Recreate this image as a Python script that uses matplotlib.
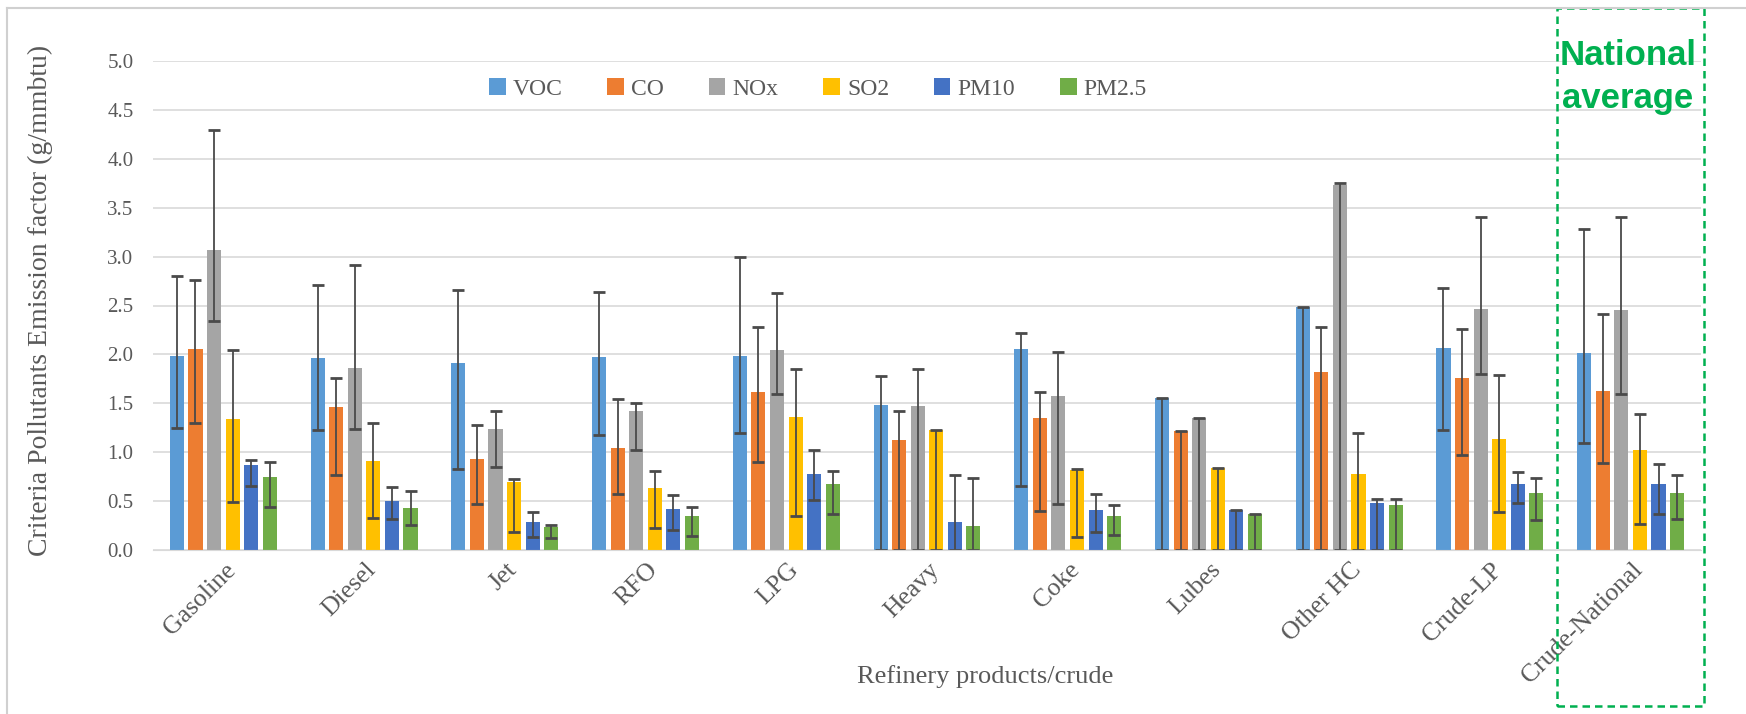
import numpy as np
import matplotlib
matplotlib.use("Agg")
import matplotlib.pyplot as plt
from matplotlib.patches import Rectangle
from matplotlib.lines import Line2D
import matplotlib.transforms as mtransforms

# emission factors (g/mmbtu) per refinery product, with low/high bounds
categories = ['Gasoline', 'Diesel', 'Jet', 'RFO', 'LPG', 'Heavy', 'Coke',
              'Lubes', 'Other HC', 'Crude-LP', 'Crude-National']
pollutants = ['VOC', 'CO', 'NOx', 'SO2', 'PM10', 'PM2.5']

voc = [1.98, 1.96, 1.91, 1.97, 1.98, 1.48, 2.06, 1.55, 2.48, 2.07, 2.01]
voc_lo = [1.25, 1.23, 0.83, 1.18, 1.20, 0.0, 0.65, 0.0, 0.0, 1.23, 1.09]
voc_hi = [2.80, 2.71, 2.66, 2.64, 3.00, 1.78, 2.22, 1.55, 2.48, 2.68, 3.28]

co = [2.06, 1.46, 0.93, 1.04, 1.62, 1.12, 1.35, 1.22, 1.82, 1.76, 1.63]
co_lo = [1.30, 0.77, 0.47, 0.57, 0.90, 0.0, 0.40, 0.0, 0.0, 0.97, 0.89]
co_hi = [2.76, 1.76, 1.28, 1.54, 2.28, 1.42, 1.62, 1.22, 2.28, 2.26, 2.41]

nox = [3.07, 1.86, 1.24, 1.42, 2.04, 1.47, 1.57, 1.35, 3.73, 2.46, 2.45]
nox_lo = [2.34, 1.24, 0.85, 1.02, 1.60, 0.0, 0.47, 0.0, 0.0, 1.80, 1.60]
nox_hi = [4.29, 2.91, 1.42, 1.50, 2.63, 1.85, 2.02, 1.35, 3.75, 3.40, 3.40]

so2 = [1.34, 0.91, 0.70, 0.63, 1.36, 1.23, 0.82, 0.84, 0.78, 1.14, 1.02]
so2_lo = [0.49, 0.33, 0.18, 0.23, 0.35, 0.0, 0.13, 0.0, 0.0, 0.39, 0.27]
so2_hi = [2.05, 1.30, 0.73, 0.81, 1.85, 1.23, 0.83, 0.84, 1.20, 1.79, 1.39]

pm10 = [0.87, 0.50, 0.29, 0.42, 0.78, 0.29, 0.41, 0.41, 0.48, 0.67, 0.67]
pm10_lo = [0.65, 0.32, 0.13, 0.20, 0.51, 0.0, 0.18, 0.0, 0.0, 0.48, 0.37]
pm10_hi = [0.92, 0.64, 0.39, 0.56, 1.02, 0.77, 0.57, 0.41, 0.52, 0.80, 0.88]

pm25 = [0.75, 0.43, 0.24, 0.35, 0.67, 0.25, 0.35, 0.37, 0.46, 0.58, 0.58]
pm25_lo = [0.44, 0.26, 0.12, 0.14, 0.37, 0.0, 0.15, 0.0, 0.0, 0.31, 0.32]
pm25_hi = [0.90, 0.60, 0.26, 0.44, 0.81, 0.74, 0.46, 0.37, 0.52, 0.74, 0.77]

colors = ['#5B9BD5', '#ED7D31', '#A5A5A5', '#FFC000', '#4472C4', '#70AD47']

series = [(voc, voc_lo, voc_hi), (co, co_lo, co_hi), (nox, nox_lo, nox_hi),
          (so2, so2_lo, so2_hi), (pm10, pm10_lo, pm10_hi), (pm25, pm25_lo, pm25_hi)]

plt.rcParams['font.family'] = ['Liberation Serif', 'DejaVu Serif']
txt = '#595959'

W, H = 1746, 714
fig = plt.figure(figsize=(W / 100, H / 100), dpi=100)
ax = fig.add_axes([153 / W, 1 - 550 / H, (1701 - 153) / W, (550 - 61) / H])

x = np.arange(len(categories))
step = 0.132
width = 0.1
for i, (vals, lo, hi) in enumerate(series):
    v = np.array(vals)
    err = [v - np.array(lo), np.array(hi) - v]
    ax.bar(x + (i - 2.5) * step, v, width, color=colors[i], label=pollutants[i],
           yerr=err, error_kw=dict(ecolor='#4a4a4a', elinewidth=1.3, capsize=4, capthick=2),
           zorder=2)

ax.set_xlim(-0.5, len(categories) - 0.5)
ax.set_ylim(0, 5.0)
ax.set_yticks(np.arange(0, 5.01, 0.5))
ax.set_yticklabels(['%.1f' % t for t in np.arange(0, 5.01, 0.5)])
ax.yaxis.grid(True, color='#D9D9D9', lw=1.2, zorder=0)
ax.set_axisbelow(True)
for s in ['top', 'right', 'left']:
    ax.spines[s].set_visible(False)
ax.spines['bottom'].set_color('#D9D9D9')
ax.tick_params(axis='both', length=0, colors=txt, labelsize=15)
ax.tick_params(axis='y', pad=14)

ax.set_xticks(x)
ax.set_xticklabels(categories, rotation=45, ha='right', va='top',
                   rotation_mode='anchor', fontsize=18.5, color=txt)
shift = mtransforms.ScaledTranslation(1 / 100, -4 / 100, fig.dpi_scale_trans)
for lab in ax.get_xticklabels():
    lab.set_transform(lab.get_transform() + shift)

fig.text(985 / W, 1 - 677 / H, 'Refinery products/crude', ha='center', va='center',
         fontsize=19, color=txt)
fig.text(40 / W, 1 - 300 / H, 'Criteria Pollutants Emission factor (g/mmbtu)',
         rotation=90, ha='center', va='center', fontsize=20, color=txt)

ax.legend(loc='center', bbox_to_anchor=(818 / W, 1 - 89 / H), bbox_transform=fig.transFigure,
          ncol=6, frameon=False, fontsize=17, handlelength=0.7, handleheight=0.7,
          handletextpad=0.3, columnspacing=1.9, labelcolor=txt)

# highlight box around the national crude group
fig.add_artist(Rectangle((1557 / W, 1 - 706 / H), (1704 - 1557) / W, (706 - 8) / H,
                         transform=fig.transFigure, fill=False, edgecolor='#00B050',
                         lw=1.8, ls=(0, (3, 2))))
fig.text(1628 / W, 1 - 77 / H, 'National\naverage', ha='center', va='center',
         fontsize=25, fontweight='bold', color='#00B050', linespacing=1.35,
         family=['Liberation Sans', 'DejaVu Sans'])

# thin frame lines along the top and left edge
fig.add_artist(Line2D([7 / W, 1], [1 - 8 / H, 1 - 8 / H], transform=fig.transFigure,
                      color='#D0D0D0', lw=1.5))
fig.add_artist(Line2D([7 / W, 7 / W], [0, 1 - 8 / H], transform=fig.transFigure,
                      color='#D0D0D0', lw=1.5))

fig.savefig('out.png', dpi=100)
